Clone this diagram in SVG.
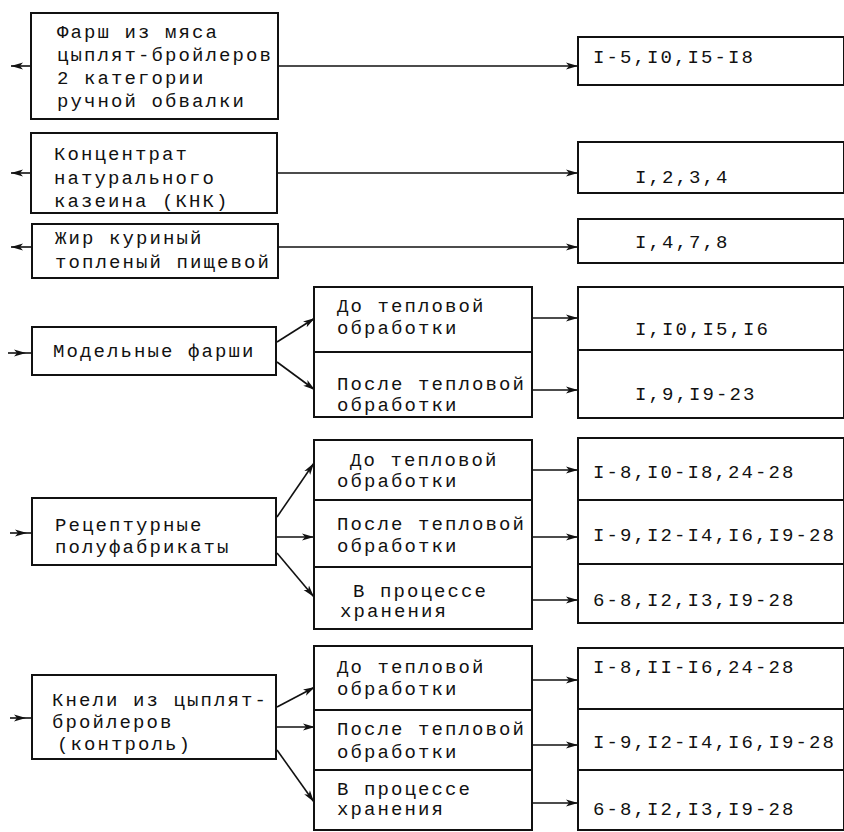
<svg xmlns="http://www.w3.org/2000/svg" width="844" height="832" viewBox="0 0 844 832">
<defs>
<marker id="ah" markerUnits="userSpaceOnUse" markerWidth="14" markerHeight="10" refX="12" refY="4" orient="auto">
<path d="M0,0.5 L12,4 L0,7.5 L3,4 Z" fill="#111"/>
</marker>
</defs>
<style>
.box{fill:#fff;stroke:#111;stroke-width:2}
.div{stroke:#111;stroke-width:2;fill:none}
.ln{stroke:#111;stroke-width:1.6;fill:none}
.ar{stroke:#111;stroke-width:1.6;fill:none;marker-end:url(#ah)}
text{font-family:"Liberation Mono","DejaVu Sans Mono",monospace;font-size:19px;letter-spacing:2.1px;fill:#111}
</style>
<rect width="844" height="832" fill="#fff"/>

<g id="connectors">
<path class="ar" d="M32,66 H11"/>
<path class="ar" d="M32,173 H11"/>
<path class="ar" d="M32,247 H11"/>
<path class="ar" d="M278,66 H578"/>
<path class="ar" d="M278,173 H578"/>
<path class="ar" d="M278,247 H578"/>

<path class="ar" d="M8,353 H26"/><path class="ln" d="M26,353 H32"/>
<path class="ar" d="M277,342 L315,318"/>
<path class="ar" d="M277,362 L315,390"/>
<path class="ar" d="M532,318 H578"/>
<path class="ar" d="M532,390 H578"/>

<path class="ar" d="M10,533 H27"/><path class="ln" d="M27,533 H32"/>
<path class="ar" d="M277,517 L314,463"/>
<path class="ar" d="M277,537 L314,537"/>
<path class="ar" d="M277,553 L314,597"/>
<path class="ar" d="M532,470 H578"/>
<path class="ar" d="M532,537 H578"/>
<path class="ar" d="M532,600 H578"/>

<path class="ar" d="M10,718 H26"/><path class="ln" d="M26,718 H32"/>
<path class="ar" d="M277,707 L315,687"/>
<path class="ar" d="M277,727 L315,727"/>
<path class="ar" d="M277,750 L314,802"/>
<path class="ar" d="M532,680 H578"/>
<path class="ar" d="M532,745 H578"/>
<path class="ar" d="M532,803 H578"/>
</g>

<g id="n1">
<rect class="box" x="31" y="13" width="247" height="106"/>
<text x="57" y="38">Фарш из мяса</text>
<text x="57" y="61">цыплят-бройлеров</text>
<text x="57" y="84">2 категории</text>
<text x="57" y="107">ручной обвалки</text>
</g>
<g id="r1">
<rect class="box" x="578" y="37" width="266" height="48"/>
<text x="593" y="63">I-5,I0,I5-I8</text>
</g>

<g id="n2">
<rect class="box" x="31" y="133" width="246" height="80"/>
<text x="54" y="160">Концентрат</text>
<text x="54" y="184">натурального</text>
<text x="54" y="207">казеина (КНК)</text>
</g>
<g id="r2">
<rect class="box" x="578" y="142" width="266" height="51"/>
<text x="635" y="183">I,2,3,4</text>
</g>

<g id="n3">
<rect class="box" x="32" y="224" width="246" height="54"/>
<text x="55" y="244">Жир куриный</text>
<text x="55" y="268">топленый пищевой</text>
</g>
<g id="r3">
<rect class="box" x="578" y="219" width="266" height="44"/>
<text x="635" y="248">I,4,7,8</text>
</g>

<g id="n4">
<rect class="box" x="32" y="327" width="244" height="48"/>
<text x="53" y="357">Модельные фарши</text>
</g>
<g id="m4">
<rect class="box" x="314" y="287" width="218" height="130"/>
<path class="div" d="M314,352 H532"/>
<text x="337" y="312">До тепловой</text>
<text x="337" y="334">обработки</text>
<text x="337" y="390">После тепловой</text>
<text x="337" y="411">обработки</text>
</g>
<g id="r4">
<rect class="box" x="578" y="287" width="266" height="131"/>
<path class="div" d="M578,350 H844"/>
<text x="635" y="335">I,I0,I5,I6</text>
<text x="635" y="400">I,9,I9-23</text>
</g>

<g id="n5">
<rect class="box" x="32" y="498" width="244" height="67"/>
<text x="55" y="531">Рецептурные</text>
<text x="55" y="553">полуфабрикаты</text>
</g>
<g id="m5">
<rect class="box" x="314" y="440" width="218" height="189"/>
<path class="div" d="M314,500 H532 M314,567 H532"/>
<text x="350" y="466">До тепловой</text>
<text x="337" y="487">обработки</text>
<text x="337" y="530">После тепловой</text>
<text x="337" y="552">обработки</text>
<text x="353" y="597">В процессе</text>
<text x="340" y="617">хранения</text>
</g>
<g id="r5">
<rect class="box" x="578" y="438" width="266" height="185"/>
<path class="div" d="M578,500 H844 M578,564 H844"/>
<text x="593" y="478">I-8,I0-I8,24-28</text>
<text x="593" y="541">I-9,I2-I4,I6,I9-28</text>
<text x="593" y="606">6-8,I2,I3,I9-28</text>
</g>

<g id="n6">
<rect class="box" x="32" y="675" width="244" height="84"/>
<text x="52" y="706">Кнели из цыплят-</text>
<text x="52" y="728">бройлеров</text>
<text x="57" y="750">(контроль)</text>
</g>
<g id="m6">
<rect class="box" x="314" y="646" width="218" height="184"/>
<path class="div" d="M314,710 H532 M314,770 H532"/>
<text x="337" y="673">До тепловой</text>
<text x="337" y="695">обработки</text>
<text x="337" y="735">После тепловой</text>
<text x="337" y="758">обработки</text>
<text x="337" y="795">В процессе</text>
<text x="337" y="815">хранения</text>
</g>
<g id="r6">
<rect class="box" x="578" y="648" width="266" height="182"/>
<path class="div" d="M578,709 H844 M578,770 H844"/>
<text x="593" y="673">I-8,II-I6,24-28</text>
<text x="593" y="748">I-9,I2-I4,I6,I9-28</text>
<text x="593" y="815">6-8,I2,I3,I9-28</text>
</g>
</svg>
